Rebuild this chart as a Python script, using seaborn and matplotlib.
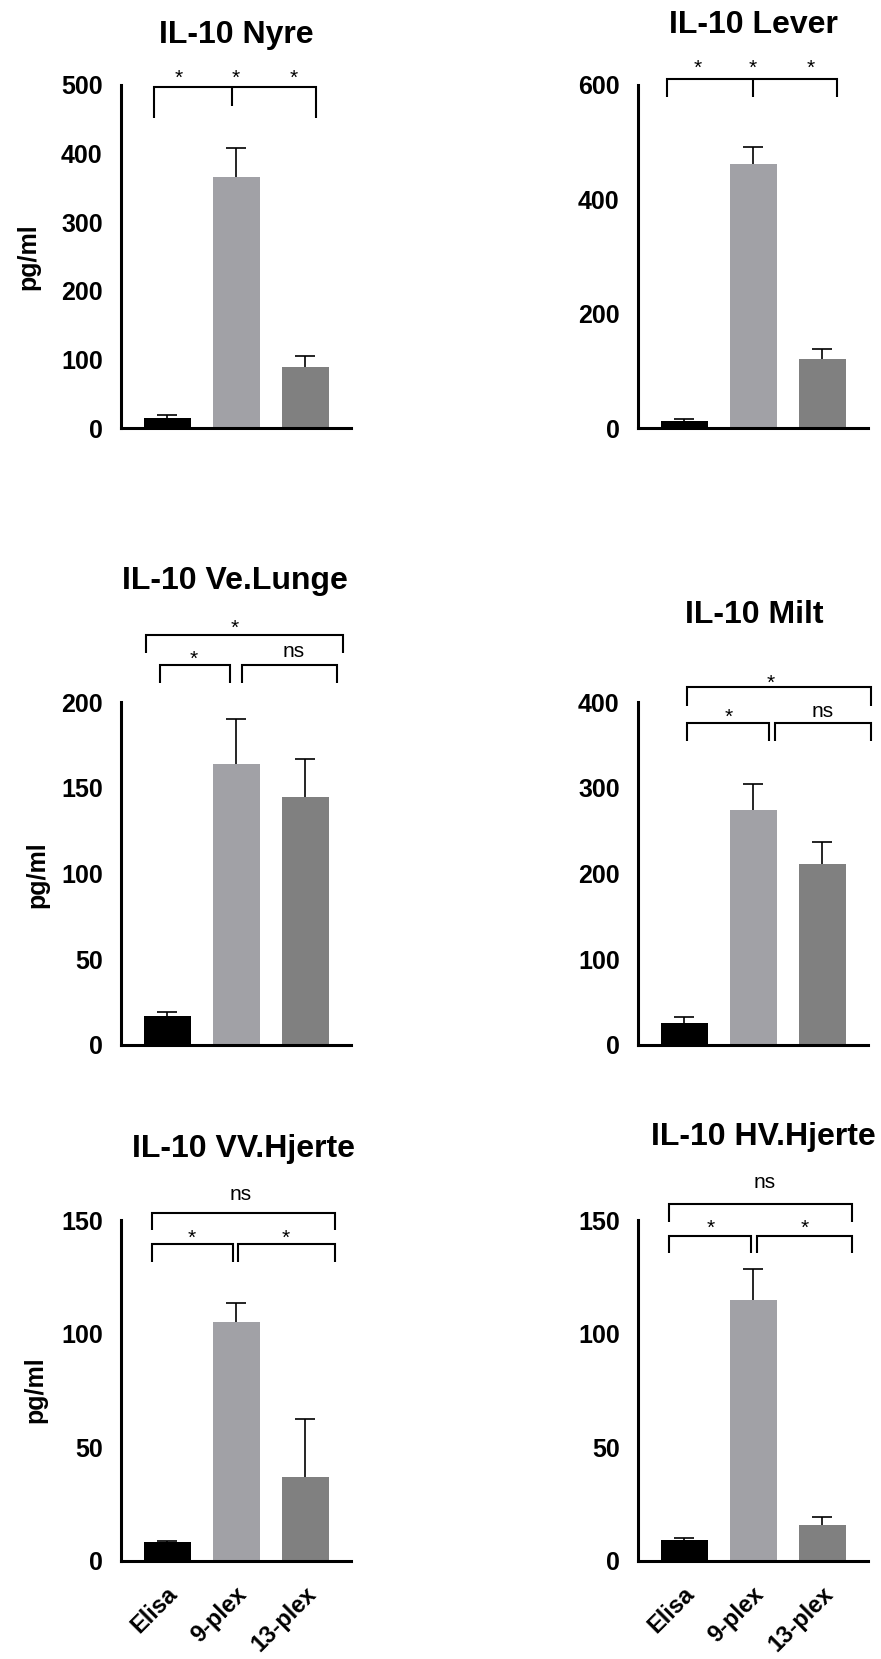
import numpy as np
import pandas as pd
import matplotlib
matplotlib.use("Agg")
import matplotlib.pyplot as plt
import matplotlib.transforms as mtransforms
import seaborn as sns

sns.set_style("white")
plt.rcParams['font.family'] = ['Liberation Sans', 'DejaVu Sans']
plt.rcParams['font.weight'] = 'bold'

# ---------------- data ----------------
categories = ["Elisa", "9-plex", "13-plex"]
bar_colors = ["#000000", "#A1A1A6", "#808080"]

titles = ["IL-10 Nyre", "IL-10 Lever", "IL-10 Ve.Lunge",
          "IL-10 Milt", "IL-10 VV.Hjerte", "IL-10 HV.Hjerte"]

nyre_mean = [14.6, 366.5, 88.8]
nyre_err = [3.8, 42.2, 16.5]
lever_mean = [12.8, 462, 121]
lever_err = [3.5, 29, 16.5]
velunge_mean = [16.9, 164, 144.7]
velunge_err = [2.5, 26, 21.9]
milt_mean = [25.2, 273.8, 210.9]
milt_err = [7.8, 30.7, 26]
vv_mean = [8.2, 105, 37.1]
vv_err = [0.7, 8.6, 25.2]
hv_mean = [9.2, 114.8, 15.8]
hv_err = [0.8, 13.5, 3.7]

means = [nyre_mean, lever_mean, velunge_mean, milt_mean, vv_mean, hv_mean]
errs = [nyre_err, lever_err, velunge_err, milt_err, vv_err, hv_err]

y_max = [500, 600, 200, 400, 150, 150]
y_step = [100, 200, 50, 100, 50, 50]

# significance brackets: (x_left, x_right, y_line, y_leg_left, y_leg_right)
brackets = [
    [(-0.19, 2.16, 497, 452, 452)],
    [(-0.246, 2.217, 610.5, 579, 579)],
    [(-0.30, 2.54, 239, 228.6, 228.6), (-0.10, 0.91, 221.6, 211, 211), (1.09, 2.46, 221.6, 211, 211)],
    [(0.04, 2.70, 417.5, 395.3, 395.3), (0.04, 1.23, 375.5, 354.5, 354.5), (1.32, 2.70, 375.5, 354.5, 354.5)],
    [(-0.22, 2.43, 153.1, 145.6, 145.6), (-0.22, 0.96, 139.5, 131.5, 131.5), (1.03, 2.43, 139.5, 131.5, 131.5)],
    [(-0.22, 2.43, 157.1, 149.1, 149.1), (-0.22, 0.97, 143.0, 135.5, 135.5), (1.06, 2.43, 143.0, 135.5, 135.5)],
]
# extra single legs: (x, y_top, y_bottom)
extra_legs = [
    [(0.94, 497, 469)],
    [(1.0, 610.5, 579)],
    [], [], [], [],
]
# significance labels: (text, x, y_baseline)
sig_labels = [
    [("*", 0.17, 501.5), ("*", 1.0, 501.5), ("*", 1.83, 501.5)],
    [("*", 0.19, 619), ("*", 0.99, 619), ("*", 1.83, 619)],
    [("*", 0.98, 239.6), ("*", 0.38, 221.6), ("ns", 1.83, 226.4)],
    [("*", 1.26, 415), ("*", 0.64, 375.5), ("ns", 2.01, 383)],
    [("ns", 1.06, 158.8), ("*", 0.36, 139.5), ("*", 1.72, 139.5)],
    [("ns", 1.17, 164.1), ("*", 0.38, 143.9), ("*", 1.74, 143.9)],
]

# ---------------- layout ----------------
W, H = 881, 1659
fig = plt.figure(figsize=(W / 100, H / 100), dpi=100)

col_left = [120.8, 637.8]
ax_w = 230
rows = [(85, 428), (702, 1045), (1220, 1561)]

title_pos = [(236, 43), (753, 33), (235, 589), (754, 623), (243, 1157), (763, 1145)]
ylabel_pos = [(28, 257), None, (37, 875), None, (35, 1390), None]

LW = 2.2
for i in range(6):
    r, c = divmod(i, 2)
    top, bot = rows[r]
    ax = fig.add_axes([col_left[c] / W, 1 - bot / H, ax_w / W, (bot - top) / H])
    df = pd.DataFrame({"cat": categories, "val": means[i]})
    sns.barplot(data=df, x="cat", y="val", hue="cat", order=categories,
                hue_order=categories, palette=bar_colors, saturation=1,
                width=0.68, errorbar=None, legend=False, linewidth=0, ax=ax)
    eb = ax.errorbar(np.arange(3), means[i], yerr=[np.zeros(3), errs[i]],
                     fmt="none", ecolor="black", elinewidth=1.2, capsize=7.5,
                     capthick=1.2, zorder=3)
    caplines = eb[1]
    if len(caplines) >= 1:
        caplines[0].set_visible(False)

    ax.set_xlim(-0.67, 2.66)
    ax.set_ylim(0, y_max[i])
    ax.set_yticks(np.arange(0, y_max[i] + 1, y_step[i]))
    ax.set_xlabel("")
    ax.set_ylabel("")
    for s in ["top", "right"]:
        ax.spines[s].set_visible(False)
    for s in ["left", "bottom"]:
        ax.spines[s].set_linewidth(LW)
        ax.spines[s].set_color("black")
    ax.tick_params(axis="y", length=9, width=LW, labelsize=18, pad=4, colors="black")
    ax.tick_params(axis="x", length=11, width=LW, labelsize=17, pad=4.5, colors="black")
    if r == 2:
        ax.set_xticks(range(3))
        ax.set_xticklabels(categories, rotation=45, ha="right", va="top",
                           rotation_mode="anchor", fontweight="bold")
        offset = mtransforms.ScaledTranslation(-1 / 100, 0, fig.dpi_scale_trans)
        for lbl in ax.get_xticklabels():
            lbl.set_transform(lbl.get_transform() + offset)
    else:
        ax.tick_params(axis="x", labelbottom=False)
    for lbl in ax.get_yticklabels():
        lbl.set_fontweight("bold")

    for (x1, x2, yl, yl1, yl2) in brackets[i]:
        ax.plot([x1, x1, x2, x2], [yl1, yl, yl, yl2], color="black", lw=1.5,
                clip_on=False, solid_capstyle="butt", solid_joinstyle="miter")
    for (x, yt, yb) in extra_legs[i]:
        ax.plot([x, x], [yt, yb], color="black", lw=1.5, clip_on=False,
                solid_capstyle="butt")
    for (t, x, y) in sig_labels[i]:
        ax.text(x, y, t, ha="center", va="baseline", fontsize=15,
                fontweight="normal", color="black", clip_on=False)

    tx, ty = title_pos[i]
    fig.text(tx / W, 1 - ty / H, titles[i], ha="center", va="baseline",
             fontsize=23, fontweight="bold", color="black")
    if ylabel_pos[i] is not None:
        lx, ly = ylabel_pos[i]
        fig.text(lx / W, 1 - ly / H, "pg/ml", rotation=90, ha="center",
                 va="center", fontsize=18, fontweight="bold", color="black")

fig.savefig("out.png", dpi=100, facecolor="white")
